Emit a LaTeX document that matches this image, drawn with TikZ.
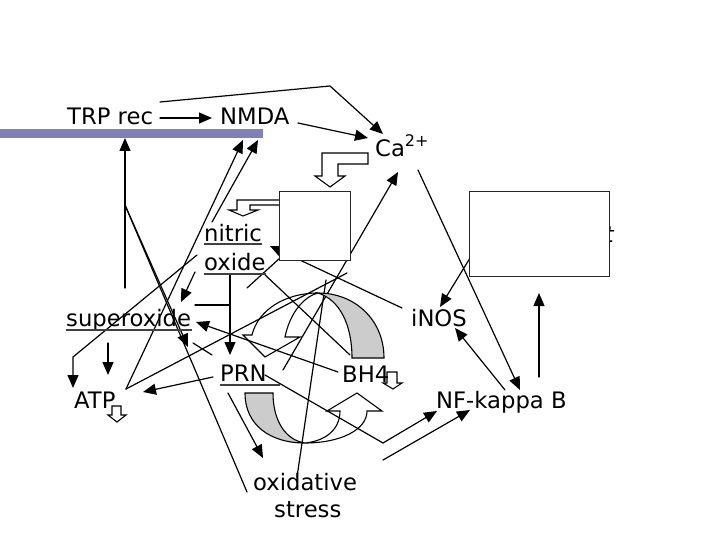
\documentclass[tikz,border=0pt]{standalone}
\usepackage{fontspec}
\setmainfont{DejaVu Sans}
\usetikzlibrary{arrows.meta}
\definecolor{barblue}{RGB}{128,128,178}
\definecolor{arcgrey}{RGB}{204,204,204}
\tikzset{
  conn/.style={line width=1.2pt, line cap=round},
  arr/.style={conn, -{Triangle[length=13pt,width=11pt]}},
  lbl/.style={font=\fontsize{22.7}{27}\selectfont, inner sep=0pt, anchor=base west},
  uline/.style={line width=1.6pt, black!75},
  hollow/.style={draw=black, line width=1.1pt, fill=white, line join=miter},
  curv/.style={draw=black, line width=1.1pt},
  boxst/.style={draw=black!85, line width=1.3pt, fill=white}
}
\begin{document}
\begin{tikzpicture}[x=1pt,y=-1pt]
\useasboundingbox (0,0) rectangle (720,540);
% bar
\fill[barblue] (0,129) rectangle (263,138);

% coordinates
\coordinate (trpR) at (160,118);
\coordinate (trpT) at (160,102);
\coordinate (bend1) at (330,86);
\coordinate (caTop) at (383,134);
\coordinate (nmdaL) at (212,118);
\coordinate (nmdaR) at (298,123);
\coordinate (caL) at (368,138);
\coordinate (vbot) at (125,288);
\coordinate (vtop) at (125,138);
\coordinate (vmid) at (125,205);
\coordinate (oxEnd) at (247,492);
\coordinate (midhead) at (188,347);
\coordinate (atpA) at (126,389);
\coordinate (nmH1) at (243,140);
\coordinate (nmH2) at (258,140);
\coordinate (niT) at (212,222);
\coordinate (b1BR) at (347,273);
\coordinate (oxL) at (197,255);
\coordinate (supL) at (73,357);
\coordinate (atpL) at (73,388);
\coordinate (supB) at (108,343);
\coordinate (atpT) at (108,375);
\coordinate (oxA) at (195,272);
\coordinate (supR) at (181,302);
\coordinate (hl) at (195,305);
\coordinate (hr) at (230,305);
\coordinate (oxU) at (230,274);
\coordinate (prnT) at (230,355);
\coordinate (bhL) at (338,372);
\coordinate (supRR) at (196,322);
\coordinate (prnL) at (213,377);
\coordinate (atpR) at (143,392);
\coordinate (oxR) at (263,273);
\coordinate (bhT) at (350,355);
\coordinate (inosL) at (402,308);
\coordinate (b1H) at (270,246);
\coordinate (b1BL) at (280,258);
\coordinate (b1BLe) at (247,288);
\coordinate (b2L) at (470,258);
\coordinate (inosT) at (440,307);
\coordinate (caR) at (418,170);
\coordinate (nfT) at (520,390);
\coordinate (nfL) at (505,390);
\coordinate (inosB) at (455,328);
\coordinate (nfV) at (539,377);
\coordinate (b2B) at (539,293);
\coordinate (prnR) at (265,375);
\coordinate (vdown) at (383,443);
\coordinate (nfH1) at (437,411);
\coordinate (lo2) at (383,460);
\coordinate (nfH2) at (470,410);
\coordinate (prnB) at (228,393);
\coordinate (osT) at (263,458);
\coordinate (osTop) at (297,477);
\coordinate (upv) at (326,280);
\coordinate (caStart) at (283,370);
\coordinate (caB) at (398,172);
\coordinate (sh1) at (193,343);
\coordinate (sh2) at (212,355);

% connectors
\draw[arr] (trpT) -- (bend1) -- (caTop);
\draw[arr] (trpR) -- (nmdaL);
\draw[arr] (nmdaR) -- (caL);
\draw[arr] (vbot) -- (vtop);
\draw[conn] (vmid) -- (oxEnd);
\draw[arr] (vmid) -- (midhead);
\draw[arr] (atpA) -- (nmH1);
\draw[arr] (niT) -- (nmH2);
\draw[conn] (atpA) -- (b1BR);
\draw[arr] (oxL) -- (supL) -- (atpL);
\draw[arr] (supB) -- (atpT);
\draw[arr] (oxA) -- (supR);
\draw[conn] (hl) -- (hr);
\draw[arr] (oxU) -- (prnT);
\draw[arr] (bhL) -- (supRR);
\draw[arr] (prnL) -- (atpR);
\draw[conn] (oxR) -- (bhT);
\draw[arr] (inosL) -- (b1H);
\draw[conn] (b1BL) -- (b1BLe);
\draw[arr] (b2L) -- (inosT);
\draw[arr] (caR) -- (nfT);
\draw[arr] (nfL) -- (inosB);
\draw[arr] (nfV) -- (b2B);
\draw[arr] (prnR) -- (vdown) -- (nfH1);
\draw[arr] (lo2) -- (nfH2);
\draw[arr] (prnB) -- (osT);
\draw[conn] (osTop) -- (upv);
\draw[arr] (caStart) -- (caB);
\draw[conn] (sh1) -- (sh2);

% curved arrows
\path[curv, fill=arcgrey] (384,358) .. controls (384,320) and (355,293) .. (318,293)
   .. controls (340,300) and (352,325) .. (352,358) -- cycle;
\path[curv] (318,293) .. controls (285,293) and (258,310) .. (252,335)
   -- (243,335) -- (265,357) -- (300,337) -- (285,337)
   .. controls (290,312) and (305,296) .. (318,293);
\path[curv, fill=arcgrey] (245,393) .. controls (245,425) and (270,443) .. (305,443)
   .. controls (285,440) and (273,420) .. (273,393) -- cycle;
\path[curv] (305,443) .. controls (340,443) and (367,430) .. (367,411)
   -- (382,411) -- (357,393) -- (327,411) -- (340,411)
   .. controls (340,430) and (325,441) .. (305,443);

% hollow block arrows
\path[hollow] (322,153) -- (368,153) -- (368,164) -- (338,164) -- (338,176)
   -- (345,176) -- (330,187) -- (315,176) -- (322,176) -- cycle;
\path[hollow] (280,200) -- (237,200) -- (237,210) -- (229,210) -- (243,216)
   -- (258,210) -- (250,210) -- (250,205) -- (280,205);
\path[hollow] (112,406) -- (121,406) -- (121,415) -- (126,415) -- (117,422)
   -- (108,415) -- (112,415) -- cycle;
\path[hollow] (387,372) -- (397,372) -- (397,383) -- (402,383) -- (393,389)
   -- (383,383) -- (387,383) -- cycle;

% hidden text fragment and boxes
\node[lbl, anchor=base east, font=\fontsize{22}{26}\selectfont\itshape] (tfrag) at (614,242) {t};
\node[boxst, minimum width=71pt, minimum height=69pt, anchor=north west, inner sep=0pt] (box1) at (279,191) {};
\node[boxst, minimum width=140pt, minimum height=85pt, anchor=north west, inner sep=0pt] (box2) at (469,191) {};

% labels
\node[lbl] (trp) at (67,125) {TRP rec};
\node[lbl] (nmda) at (220,125) {NMDA};
\node[lbl] (ca) at (375,157) {Ca\raisebox{10pt}{\fontsize{16}{18}\selectfont 2+}};
\node[lbl] (nitric) at (204,241) {nitric};
\node[lbl] (oxide) at (204,270) {oxide};
\node[lbl] (sup) at (66,326) {superoxide};
\node[lbl] (inos) at (411,326) {iNOS};
\node[lbl] (prn) at (220,381) {PRN};
\node[lbl] (bh4) at (342,382) {BH4};
\node[lbl] (atp) at (74,408) {ATP};
\node[lbl] (nfkb) at (436,408) {NF-kappa B};
\node[lbl] (oxid) at (253,490) {oxidative};
\node[lbl] (stress) at (274,517) {stress};
% underlines
\draw[uline] (204,244) -- (262,244);
\draw[uline] (204,274) -- (266,274);
\draw[uline] (66,330) -- (192,330);
\draw[uline] (220,385) -- (280,385);
\end{tikzpicture}
\end{document}
